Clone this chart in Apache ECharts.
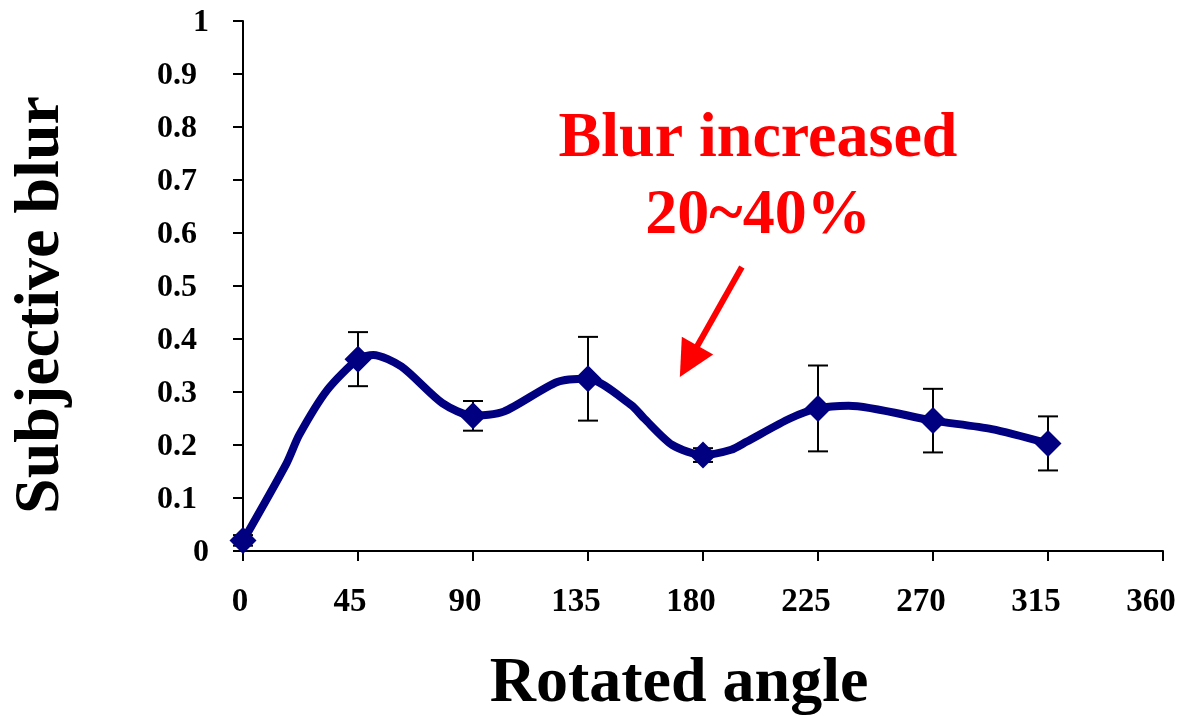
<!DOCTYPE html>
<html>
<head>
<meta charset="utf-8">
<script src="https://cdn.jsdelivr.net/npm/echarts@6/dist/echarts.min.js"></script>
<style>
html,body{margin:0;padding:0;background:#fff;overflow:hidden;width:1181px;height:716px;}
#chart{width:1181px;height:716px;overflow:hidden;}
</style>
</head>
<body>
<div id="chart"></div>
<script>
// Measured points (mean and error) at each rotated angle
var angles = [0, 45, 90, 135, 180, 225, 270, 315];
var means = [0.02, 0.362, 0.255, 0.325, 0.181, 0.269, 0.246, 0.203];
var errs = [0.01, 0.051, 0.028, 0.079, 0.013, 0.081, 0.06, 0.051];

// Traced smoothed curve through the points
var curveX = [0, 17, 22, 33, 45, 51, 62, 78, 90, 102, 123, 135, 152, 157, 168, 180, 191, 197, 214, 225, 237, 270, 293, 315];
var curveY = [0.019, 0.165, 0.219, 0.304, 0.362, 0.370, 0.348, 0.279, 0.255, 0.263, 0.319, 0.325, 0.275, 0.250, 0.200, 0.181, 0.191, 0.206, 0.250, 0.269, 0.274, 0.246, 0.230, 0.203];

// Axis ticks
var xTicks = [0, 45, 90, 135, 180, 225, 270, 315, 360];
var yTicks = [0, 0.1, 0.2, 0.3, 0.4, 0.5, 0.6, 0.7, 0.8, 0.9, 1];

// Annotation arrow (data coordinates) and text
var arrowFrom = [195.2, 0.536];
var arrowTo = [174.4, 0.358];
var annotation = ['Blur increased', '20~40%'];

var FONT = '"Liberation Serif", "Times New Roman", serif';
var NAVY = '#000080';

var curveData = curveX.map(function (x, i) { return [x, curveY[i]]; });
var pointData = angles.map(function (x, i) { return [x, means[i]]; });
var errData = angles.map(function (x, i) { return [x, means[i] - errs[i], means[i] + errs[i]]; });

function lab(size, pad) {
  return {color: '#000', fontFamily: FONT, fontWeight: 'bold', fontSize: size, padding: pad};
}

var chart = echarts.init(document.getElementById('chart'), null, {renderer: 'canvas', width: 1181, height: 716});
chart.setOption({
  animation: false,
  backgroundColor: '#ffffff',
  grid: {left: 243, right: 18, top: 21, bottom: 165, containLabel: false},
  xAxis: {
    type: 'value', min: xTicks[0], max: xTicks[xTicks.length - 1], interval: 45,
    axisLine: {show: true, onZero: false, lineStyle: {color: '#000', width: 2}},
    axisTick: {show: true, inside: false, length: 10, lineStyle: {color: '#000', width: 2}},
    axisLabel: {color: '#000', fontFamily: FONT, fontWeight: 'bold', fontSize: 33, margin: 35,
      formatter: function (v) { var s = String(v); return '{d' + s.length + '|' + s + '}'; },
      rich: {d1: lab(33, [0, 6, 0, 0]), d2: lab(33, [0, 16, 0, 0]), d3: lab(33, [0, 24, 0, 0])}
    },
    splitLine: {show: false}
  },
  yAxis: {
    type: 'value', min: yTicks[0], max: yTicks[yTicks.length - 1], interval: 0.1,
    axisLine: {show: true, onZero: false, lineStyle: {color: '#000', width: 2}},
    axisTick: {show: true, inside: false, length: 10, lineStyle: {color: '#000', width: 2}},
    axisLabel: {color: '#000', fontFamily: FONT, fontWeight: 'bold', fontSize: 32, margin: 34,
      formatter: function (v) {
        var s = String(Math.round(v * 10) / 10);
        return (s.indexOf('.') >= 0 ? '{dec|' : '{int|') + s + '}';
      },
      rich: {int: lab(32, [4, 0, 0, 0]), dec: lab(32, [4, 12, 0, 0])}
    },
    splitLine: {show: false}
  },
  series: [
    {
      type: 'line', data: curveData, showSymbol: false, smooth: 0.25,
      lineStyle: {color: NAVY, width: 8}, z: 2, silent: true
    },
    {
      type: 'custom', data: errData, z: 3, silent: true,
      renderItem: function (params, api) {
        var x = api.value(0);
        var lo = api.coord([x, api.value(1)]);
        var hi = api.coord([x, api.value(2)]);
        var cap = 10;
        var st = {stroke: '#000', lineWidth: 2};
        return {type: 'group', children: [
          {type: 'line', shape: {x1: lo[0], y1: lo[1], x2: hi[0], y2: hi[1]}, style: st},
          {type: 'line', shape: {x1: lo[0] - cap, y1: lo[1], x2: lo[0] + cap, y2: lo[1]}, style: st},
          {type: 'line', shape: {x1: hi[0] - cap, y1: hi[1], x2: hi[0] + cap, y2: hi[1]}, style: st}
        ]};
      }
    },
    {
      type: 'scatter', data: pointData, symbol: 'diamond', symbolSize: [27, 27],
      itemStyle: {color: NAVY, opacity: 1}, z: 4, silent: true,
      markLine: {
        silent: true, symbol: ['none', 'triangle'], symbolSize: 36,
        label: {show: false},
        lineStyle: {color: '#ff0000', width: 6, type: 'solid', opacity: 1},
        itemStyle: {color: '#ff0000'},
        data: [[{coord: arrowFrom}, {coord: arrowTo}]]
      }
    }
  ],
  graphic: [
    {type: 'text', x: 758, y: 139, style: {text: annotation[0], fill: '#ff0000', font: 'bold 64px ' + FONT, textAlign: 'center', textVerticalAlign: 'middle'}},
    {type: 'text', x: 758, y: 216, style: {text: annotation[1], fill: '#ff0000', font: 'bold 64px ' + FONT, textAlign: 'center', textVerticalAlign: 'middle'}},
    {type: 'text', x: 41, y: 305, rotation: Math.PI / 2, style: {text: 'Subjective blur', fill: '#000', font: 'bold 64px ' + FONT, textAlign: 'center', textVerticalAlign: 'middle'}},
    {type: 'text', x: 679, y: 684, style: {text: 'Rotated angle', fill: '#000', font: 'bold 64px ' + FONT, textAlign: 'center', textVerticalAlign: 'middle'}}
  ]
});
</script>
</body>
</html>
